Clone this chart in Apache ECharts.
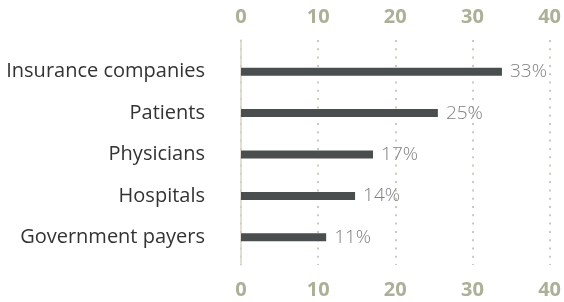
<!DOCTYPE html>
<html><head><meta charset="utf-8">
<script src="https://cdn.jsdelivr.net/npm/echarts@6/dist/echarts.min.js"></script>
<style>html,body{margin:0;padding:0;background:#fff}#c{width:564px;height:302px}</style>
</head><body><div id="c"></div>
<script>
const categories = ['Insurance companies','Patients','Physicians','Hospitals','Government payers'];
const values = [33.4, 25.2, 16.9, 14.6, 10.9];
const valueLabels = ['33%','25%','17%','14%','11%'];
const axisMin = 0, axisMax = 40, axisStep = 10;

const chart = echarts.init(document.getElementById('c'), null, {renderer:'canvas'});
const font = '"Open Sans", "Noto Sans", sans-serif';
const tickStyle = {color:'#acb096', fontSize:20, fontWeight:'bold', fontFamily:font};
chart.setOption({
  animation:false,
  grid:[
    {left:241, right:10.5, top:51, bottom:44, containLabel:false},
    {left:241, right:10.5, top:40, bottom:37, containLabel:false}
  ],
  xAxis:[
    {gridIndex:0, type:'value', min:axisMin, max:axisMax, interval:axisStep, show:false},
    {gridIndex:1, type:'value', position:'top', min:axisMin, max:axisMax, interval:axisStep,
     axisLine:{show:false}, axisTick:{show:false},
     axisLabel:Object.assign({margin:13}, tickStyle),
     splitLine:{show:true, lineStyle:{color:'#cbcbbd', width:2, type:[2,6.3]}}},
    {gridIndex:1, type:'value', position:'bottom', min:axisMin, max:axisMax, interval:axisStep,
     axisLine:{show:false}, axisTick:{show:false},
     axisLabel:Object.assign({margin:15}, tickStyle),
     splitLine:{show:false}}
  ],
  yAxis:[
    {gridIndex:0, type:'category', data:categories, inverse:true,
     axisLine:{show:false}, axisTick:{show:false},
     axisLabel:{color:'#333', fontSize:20, fontFamily:font, margin:36}},
    {gridIndex:1, type:'value', min:0, max:1, axisLabel:{show:false}, axisTick:{show:false},
     splitLine:{show:false}, axisLine:{show:true, lineStyle:{color:'#d6d4c6', width:1.5}}}
  ],
  series:[{
    type:'bar', xAxisIndex:0, yAxisIndex:0, data:values, barWidth:8,
    itemStyle:{color:'#4a4e4f'},
    label:{show:true, position:'right', distance:8, color:'#808080', fontSize:19, fontWeight:300, fontFamily:font,
      formatter:p=>valueLabels[p.dataIndex]},
    z:3
  }]
});
</script></body></html>
